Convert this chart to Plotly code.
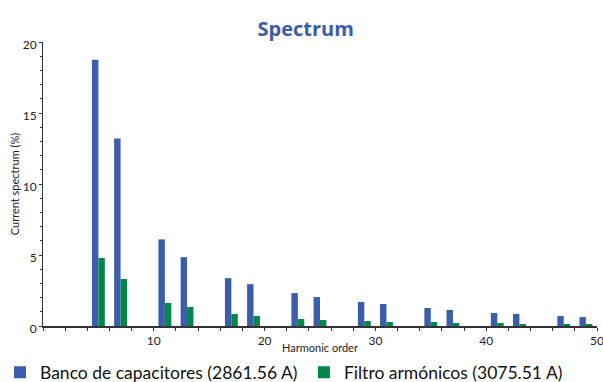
import plotly.graph_objects as go

harmonics = [5, 7, 11, 13, 17, 19, 23, 25, 29, 31, 35, 37, 41, 43, 47, 49]
banco = [18.75, 13.2, 6.1, 4.85, 3.37, 2.95, 2.32, 2.04, 1.69, 1.55, 1.27, 1.13, 0.92, 0.85, 0.7, 0.63]
filtro = [4.79, 3.31, 1.62, 1.34, 0.85, 0.7, 0.49, 0.42, 0.35, 0.28, 0.28, 0.21, 0.21, 0.14, 0.14, 0.14]
names = ["Banco de capacitores (2861.56 A)", "Filtro armónicos (3075.51 A)"]
colors = ["#3b5dab", "#00874a"]
x_ticks = [10, 20, 30, 40, 50]
y_ticks = [0, 5, 10, 15, 20]

fig = go.Figure()
fig.add_trace(go.Bar(x=harmonics, y=banco, name=names[0], marker_color=colors[0],
                     marker_line_width=0, width=0.58, offset=-0.58, legend="legend"))
fig.add_trace(go.Bar(x=harmonics, y=filtro, name=names[1], marker_color=colors[1],
                     marker_line_width=0, width=0.58, offset=0.0, legend="legend2"))

leg_common = dict(orientation="h", xanchor="left", yanchor="top", xref="container", yref="container",
                  font=dict(size=17.5, color="#111111"), bgcolor="rgba(0,0,0,0)")

fig.update_layout(
    width=603, height=382,
    margin=dict(l=43, r=6, t=42, b=56, autoexpand=False),
    paper_bgcolor="white", plot_bgcolor="white",
    font=dict(family="Lato", color="#222222"),
    barmode="overlay",
    title=dict(text="<b>Spectrum</b>", x=0.507, xanchor="center", y=0.925, yanchor="middle",
               font=dict(family="Open Sans", size=20, color="#3c5ca9")),
    showlegend=True,
    legend=dict(x=0.0, y=0.072, **leg_common),
    legend2=dict(x=0.504, y=0.072, **leg_common),
)
fig.update_xaxes(
    range=[0, 50], tickmode="array", tickvals=x_ticks,
    showgrid=False, zeroline=False,
    showline=True, linecolor="#333333", linewidth=2,
    ticks="outside", ticklen=3, tickcolor="#333333",
    minor=dict(dtick=2, tick0=0, ticks="outside", ticklen=3, tickcolor="#333333", showgrid=False),
    tickfont=dict(size=12), ticklabelstandoff=0, ticklabeloverflow="allow",
    title=dict(text="Harmonic order", font=dict(size=11), standoff=2),
)
fig.update_yaxes(
    range=[0, 20], tickmode="array", tickvals=y_ticks,
    showgrid=False, zeroline=False,
    showline=True, linecolor="#333333", linewidth=1,
    ticks="outside", ticklen=3, tickcolor="#333333",
    minor=dict(dtick=1, tick0=0, ticks="outside", ticklen=2, tickcolor="#333333", showgrid=False),
    tickfont=dict(size=12), ticklabelshift=3, ticklabelstandoff=0,
    title=dict(text="Current spectrum (%)", font=dict(size=11), standoff=0),
)

fig.write_html("out.html")
